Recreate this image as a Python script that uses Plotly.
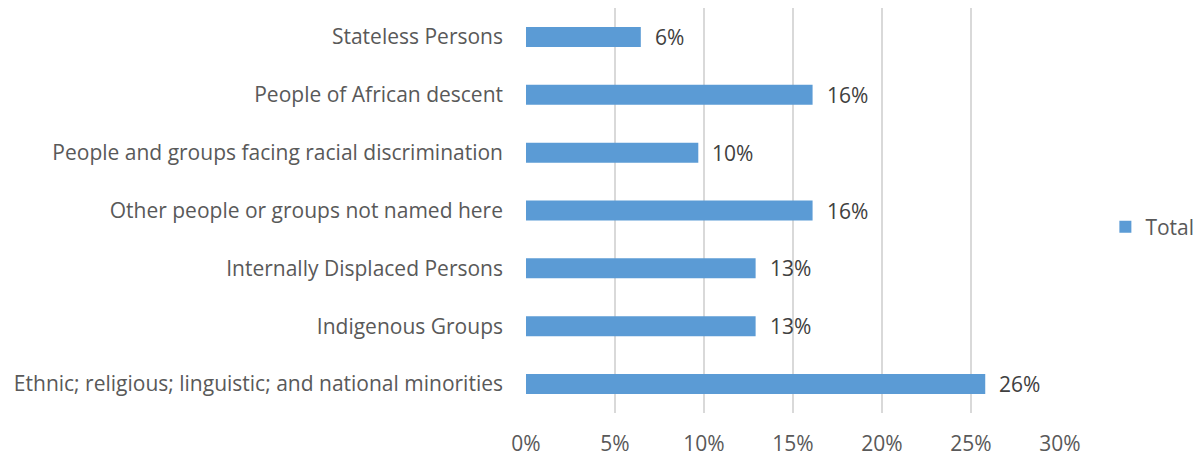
import plotly.graph_objects as go

# Groups, listed bottom-to-top as they appear on the y axis
groups = [
    "Ethnic; religious; linguistic; and national minorities",
    "Indigenous Groups",
    "Internally Displaced Persons",
    "Other people or groups not named here",
    "People and groups facing racial discrimination",
    "People of African descent",
    "Stateless Persons",
]
# Share of responses for each group
shares = [0.258, 0.129, 0.129, 0.161, 0.0968, 0.161, 0.0645]

x_ticks = [0, 0.05, 0.10, 0.15, 0.20, 0.25, 0.30]
x_tick_labels = ["0%", "5%", "10%", "15%", "20%", "25%", "30%"]

FONT = "'Open Sans', sans-serif"
TEXT_COLOR = "#595959"
BAR_COLOR = "#5B9BD5"
SIZE = 21

fig = go.Figure()
fig.add_trace(go.Bar(
    x=shares,
    y=groups,
    orientation="h",
    name="Total",
    marker=dict(color=BAR_COLOR, line=dict(width=0)),
    hoverinfo="skip",
))

# Value labels just to the right of each bar
for g, v in zip(groups, shares):
    fig.add_annotation(
        x=v, y=g, text=f"{v:.0%}", showarrow=False,
        xanchor="left", yanchor="middle", xshift=12,
        font=dict(family=FONT, size=SIZE, color="#404040"),
    )

fig.update_layout(
    width=1195, height=456,
    margin=dict(l=526, r=135, t=8, b=43, autoexpand=False),
    paper_bgcolor="white", plot_bgcolor="white",
    bargap=0.654,
    font=dict(family=FONT, size=SIZE, color=TEXT_COLOR),
    showlegend=True,
    legend=dict(
        xref="container", yref="container",
        x=0.925, y=0.502, xanchor="left", yanchor="middle",
        font=dict(family=FONT, size=SIZE, color=TEXT_COLOR),
        itemwidth=30,
    ),
    xaxis=dict(
        range=[0, 0.30],
        tickvals=x_ticks, ticktext=x_tick_labels,
        showgrid=True, gridcolor="#D9D9D9", gridwidth=1.5,
        zeroline=False, showline=False, ticks="",
        ticklabelstandoff=16, automargin=False,
        tickfont=dict(family=FONT, size=SIZE, color=TEXT_COLOR),
        fixedrange=True,
    ),
    yaxis=dict(
        categoryorder="array", categoryarray=groups,
        showgrid=False, zeroline=False, showline=False, ticks="",
        ticklabelstandoff=22, automargin=False,
        tickfont=dict(family=FONT, size=SIZE, color=TEXT_COLOR),
        fixedrange=True,
    ),
)

fig.write_html("out.html")
